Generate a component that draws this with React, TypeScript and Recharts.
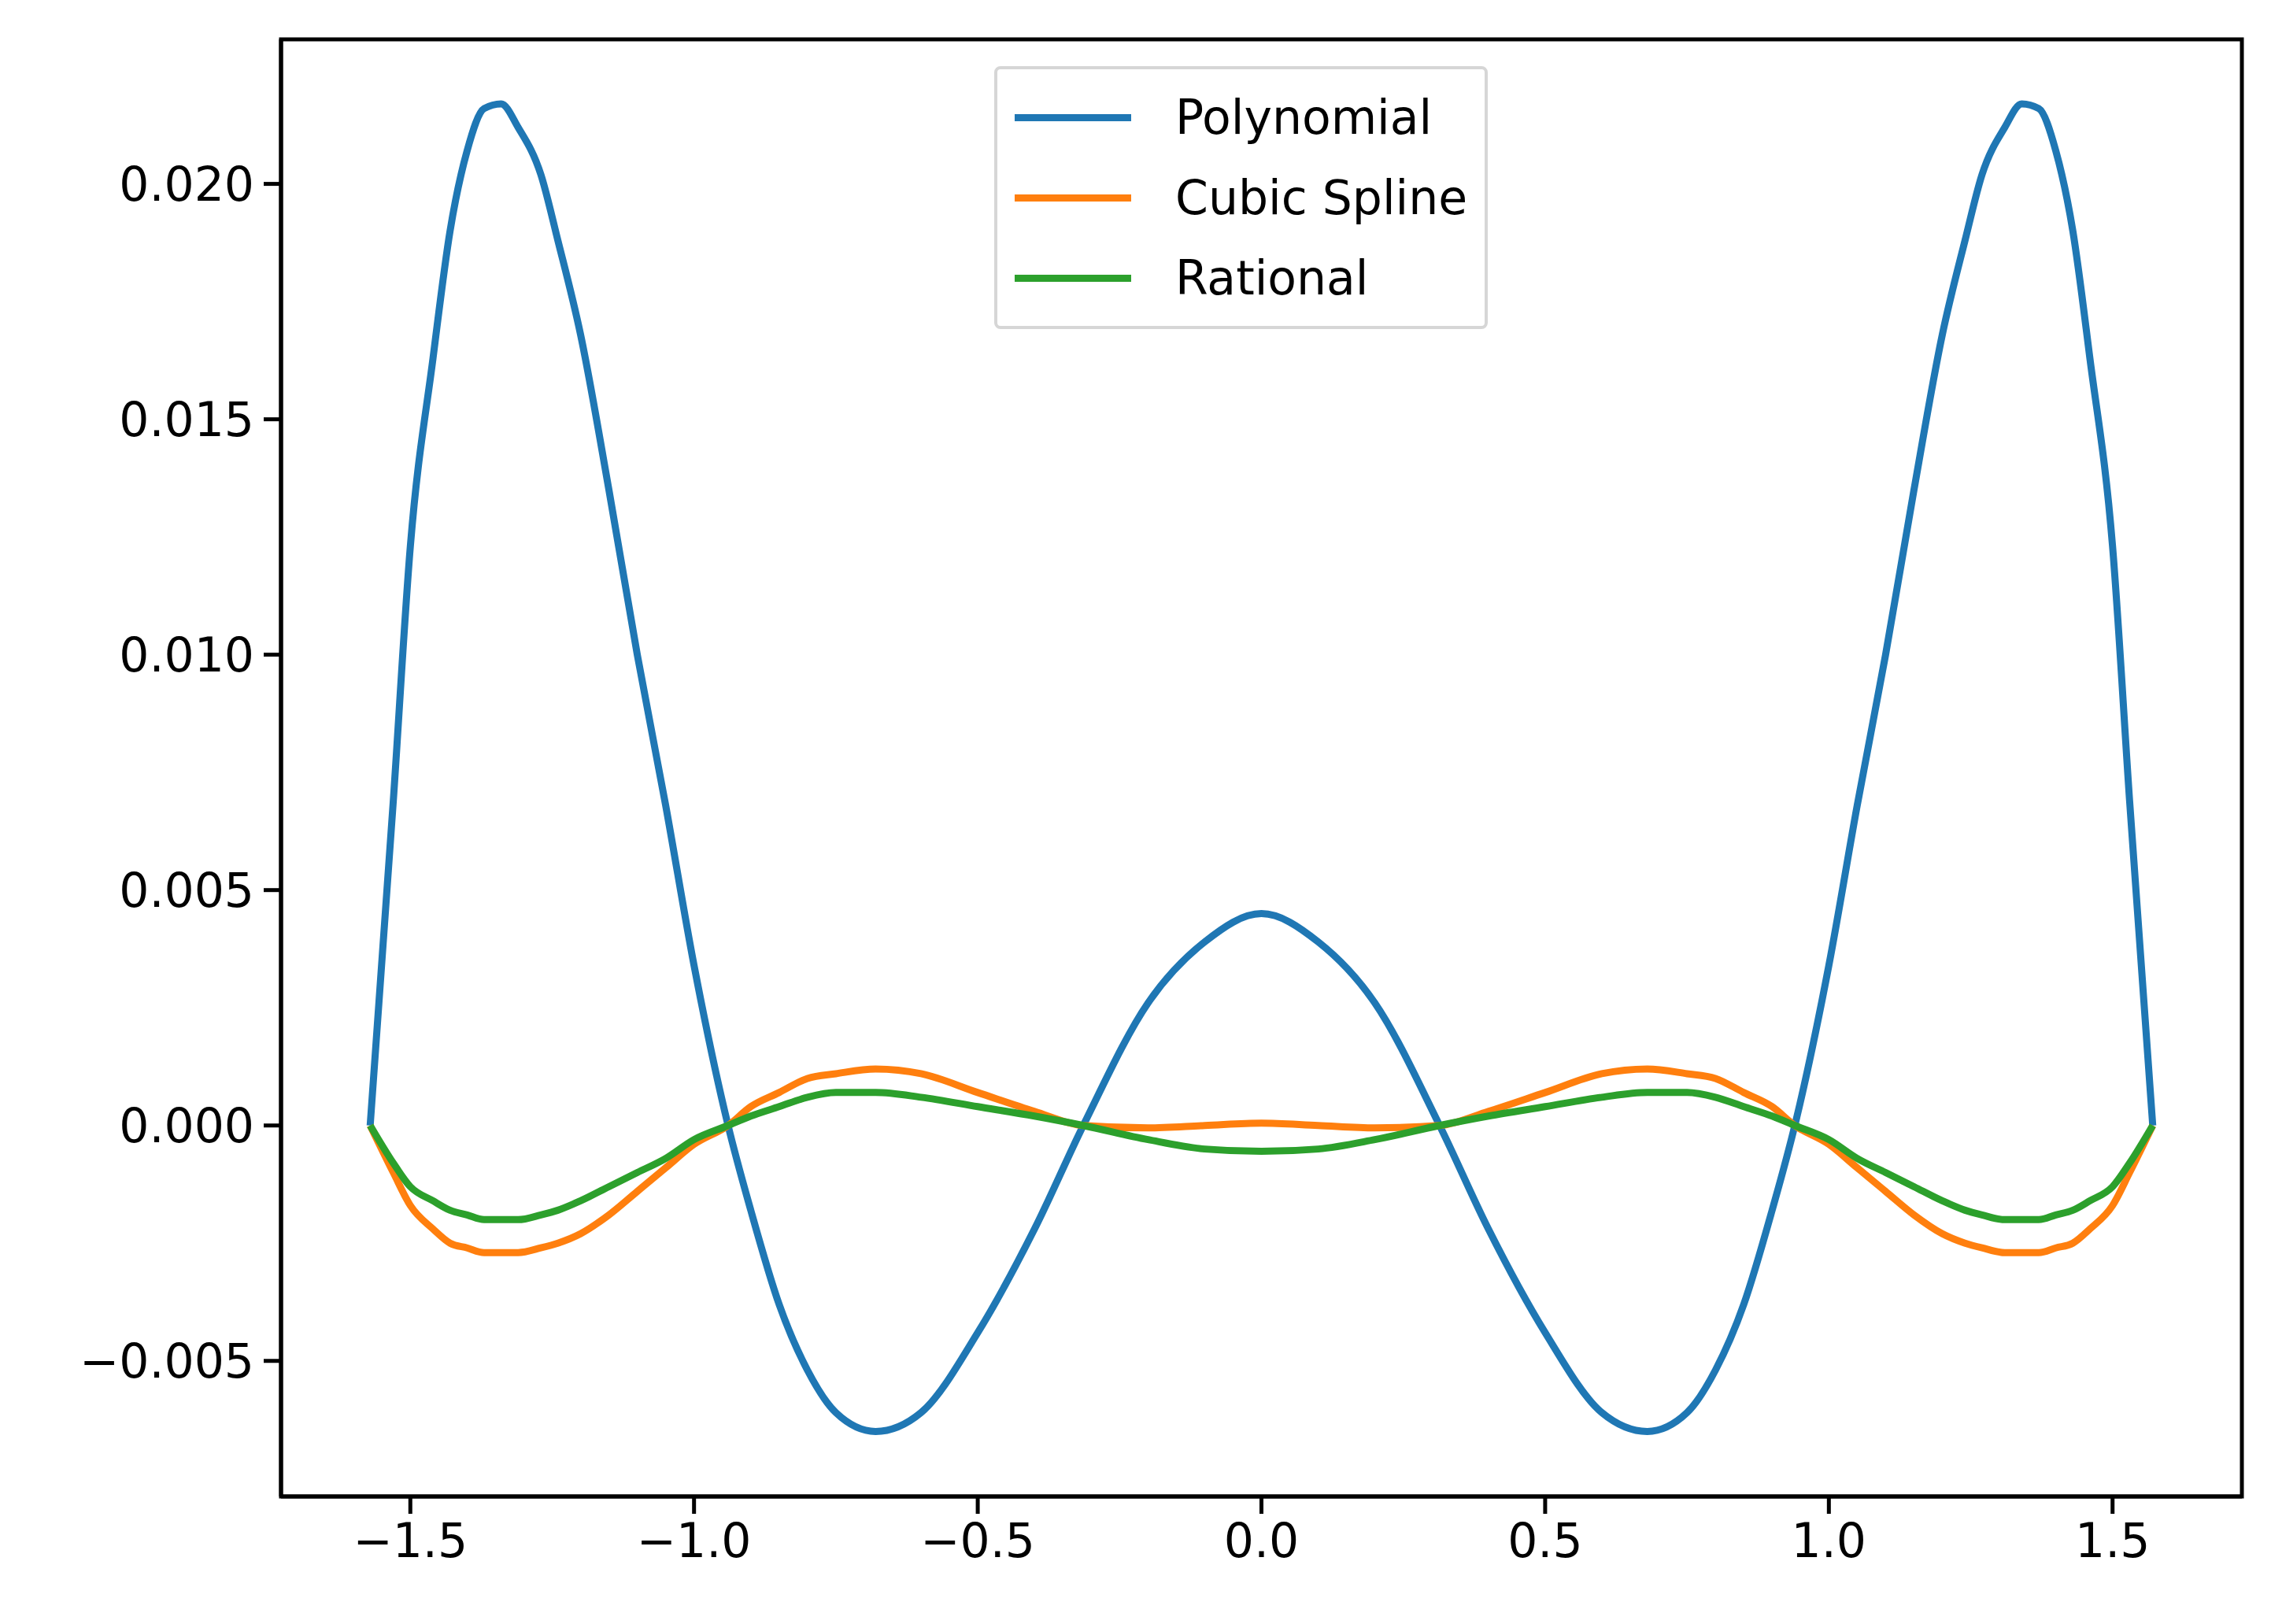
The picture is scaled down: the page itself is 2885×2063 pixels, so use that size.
import React from 'react';
import { LineChart, Line, XAxis, YAxis, ReferenceArea } from 'recharts';

const xs = [-1.5708, -1.53, -1.5, -1.46, -1.43, -1.4, -1.37, -1.34, -1.31, -1.27, -1.24, -1.2, -1.15, -1.1, -1.05, -1.0, -0.94, -0.9, -0.85, -0.8, -0.75, -0.68, -0.6, -0.5, -0.4, -0.314, -0.2, -0.1, 0,
  0.1, 0.2, 0.314, 0.4, 0.5, 0.6, 0.68, 0.75, 0.8, 0.85, 0.9, 0.94, 1.0, 1.05, 1.1, 1.15, 1.2, 1.24, 1.27, 1.31, 1.34, 1.37, 1.4, 1.43, 1.46, 1.5, 1.53, 1.5708];
const polynomial = [0, 0.0069, 0.0123, 0.0163, 0.019, 0.0207, 0.0216, 0.0217, 0.0212, 0.0202, 0.0188, 0.0168, 0.0135, 0.01, 0.0068, 0.0034, 0, -0.0018, -0.0038, -0.0052, -0.0061, -0.0065, -0.0061, -0.0044, -0.0022, 0, 0.0026, 0.0039, 0.0045,
  0.0039, 0.0026, 0, -0.0022, -0.0044, -0.0061, -0.0065, -0.0061, -0.0052, -0.0038, -0.0018, 0, 0.0034, 0.0068, 0.01, 0.0135, 0.0168, 0.0188, 0.0202, 0.0212, 0.0217, 0.0216, 0.0207, 0.019, 0.0163, 0.0123, 0.0069, 0];
const cubicSpline = [0, -0.001, -0.0017, -0.0022, -0.0025, -0.0026, -0.0027, -0.0027, -0.0027, -0.0026, -0.0025, -0.0023, -0.0019, -0.0014, -0.0009, -0.0004, 0, 0.0004, 0.0007, 0.001, 0.0011, 0.0012, 0.0011, 0.0007, 0.0003, 0, -0.00005, 0, 0.00005,
  0, -0.00005, 0, 0.0003, 0.0007, 0.0011, 0.0012, 0.0011, 0.001, 0.0007, 0.0004, 0, -0.0004, -0.0009, -0.0014, -0.0019, -0.0023, -0.0025, -0.0026, -0.0027, -0.0027, -0.0027, -0.0026, -0.0025, -0.0022, -0.0017, -0.001, 0];
const rational = [0, -0.0008, -0.0013, -0.0016, -0.0018, -0.0019, -0.002, -0.002, -0.002, -0.0019, -0.0018, -0.0016, -0.0013, -0.001, -0.0007, -0.0003, 0, 0.0002, 0.0004, 0.0006, 0.0007, 0.0007, 0.0006, 0.0004, 0.0002, 0, -0.0003, -0.0005, -0.00055,
  -0.0005, -0.0003, 0, 0.0002, 0.0004, 0.0006, 0.0007, 0.0007, 0.0006, 0.0004, 0.0002, 0, -0.0003, -0.0007, -0.001, -0.0013, -0.0016, -0.0018, -0.0019, -0.002, -0.002, -0.002, -0.0019, -0.0018, -0.0016, -0.0013, -0.0008, 0];

const xTicks = [-1.5, -1.0, -0.5, 0.0, 0.5, 1.0, 1.5];
const yTicks = [-0.005, 0.0, 0.005, 0.01, 0.015, 0.02];
const XD: [number, number] = [-1.7279, 1.7279];
const YD: [number, number] = [-0.00788, 0.02307];

const series = [
  { key: 'Polynomial', color: '#1f77b4' },
  { key: 'Cubic Spline', color: '#ff7f0e' },
  { key: 'Rational', color: '#2ca02c' },
];

const data = xs.map((x, i) => ({ x, Polynomial: polynomial[i], 'Cubic Spline': cubicSpline[i], Rational: rational[i] }));
const fmt = (v: number, d: number) => (v < 0 ? '\u2212' : '') + Math.abs(v).toFixed(d);
const FONT = 'DejaVu Sans';

const LegendBox = () => (
  <div style={{ position: 'absolute', top: 76, left: 1255, border: '4px solid #d6d6d6', borderRadius: 8, background: '#fff', padding: '10px 22px 10px 22px', fontFamily: FONT, fontSize: 60 }}>
    {series.map(s => (
      <div key={s.key} style={{ display: 'flex', alignItems: 'center', height: 102 }}>
        <div style={{ width: 148, height: 9, background: s.color, marginRight: 56 }} />
        <span style={{ color: '#000' }}>{s.key}</span>
      </div>
    ))}
  </div>
);

export default function App() {
  return (
    <div style={{ position: 'relative', width: 2870, height: 2050 }}>
      <LineChart width={2870} height={2050} data={data} margin={{ top: 42, right: 30, bottom: 0, left: 0 }}>
        <XAxis dataKey="x" type="number" domain={XD} ticks={xTicks} allowDataOverflow height={157}
          tickFormatter={(v: number) => fmt(v, 1)} tick={{ fontSize: 60, fill: '#000', fontFamily: FONT }}
          stroke="#000" strokeWidth={5} tickSize={22} tickMargin={12} />
        <YAxis type="number" domain={YD} ticks={yTicks} allowDataOverflow width={349}
          tickFormatter={(v: number) => fmt(v, 3)} tick={{ fontSize: 60, fill: '#000', fontFamily: FONT }}
          stroke="#000" strokeWidth={5} tickSize={22} tickMargin={12} />
        <ReferenceArea x1={XD[0]} x2={XD[1]} y1={YD[0]} y2={YD[1]} fill="none" stroke="#000" strokeWidth={5} ifOverflow="visible" />
        {series.map(s => (
          <Line key={s.key} dataKey={s.key} type="monotone" stroke={s.color} strokeWidth={9} dot={false} isAnimationActive={false} />
        ))}
      </LineChart>
      <LegendBox />
    </div>
  );
}
